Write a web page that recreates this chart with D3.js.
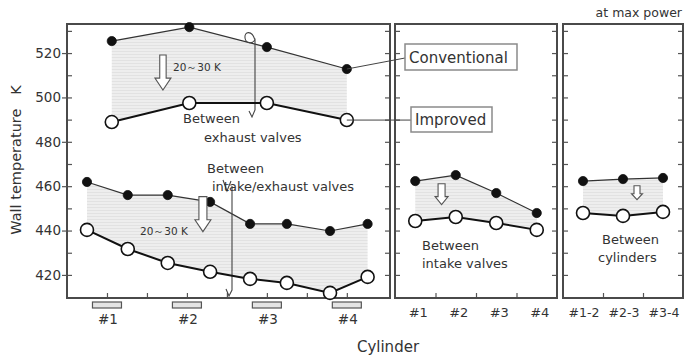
<!DOCTYPE html>
<html>
<head>
<meta charset="utf-8">
<script src="https://cdn.jsdelivr.net/npm/d3@7"></script>
<style>
  html, body { margin: 0; padding: 0; background: #fff; }
  svg { display: block; font-family: "DejaVu Sans", sans-serif; }
  text { fill: #333; }
</style>
</head>
<body>
<svg id="chart" width="691" height="359"></svg>
<script>
// Wall temperatures (K): conventional vs improved head, at max power
const exhaustPos  = [1.06, 2.03, 3.0, 4.0];
const exhaustConv = [525.4, 531.7, 522.7, 512.8];
const exhaustImp  = [488.9, 497.5, 497.5, 489.8];

const ieValvePos = [0.75, 1.26, 1.76, 2.29, 2.79, 3.25, 3.79, 4.26];
const ieConv     = [461.9, 456.0, 456.0, 452.9, 443.0, 443.0, 439.8, 443.0];
const ieImp      = [440.3, 431.7, 425.4, 421.4, 418.2, 416.4, 411.9, 419.1];

const intakeCats = ["#1", "#2", "#3", "#4"];
const intakeConv = [462.3, 465.0, 456.9, 447.9];
const intakeImp  = [444.3, 446.1, 443.4, 440.3];

const betweenCats = ["#1-2", "#2-3", "#3-4"];
const betweenConv = [462.3, 463.2, 463.7];
const betweenImp  = [447.9, 446.6, 448.4];

const cylinders = ["#1", "#2", "#3", "#4"];
const yTicks = [420, 440, 460, 480, 500, 520];
const yMinor = d3.range(420, 531, 10);

const svg = d3.select("#chart");
const plotTop = 24, plotBottom = 298;

const y = d3.scaleLinear().domain([409.6, 533.1]).range([plotBottom, plotTop]);
const xMain = d3.scaleLinear().domain([0.5, 4.54]).range([67, 390]);
const xIntake = d3.scaleLinear().domain([0.5, 4.5]).range([395, 557]);
const xBetween = d3.scaleLinear().domain([0.5, 3.5]).range([563, 683]);

// hatched grey fill for the reduction bands
const defs = svg.append("defs");
const pat = defs.append("pattern").attr("id", "hatch")
  .attr("patternUnits", "userSpaceOnUse").attr("width", 6).attr("height", 3);
pat.append("rect").attr("width", 6).attr("height", 3).attr("fill", "#eeeeee");
pat.append("rect").attr("y", 0).attr("width", 6).attr("height", 1).attr("fill", "#e2e2e2");

function band(xs, hi, lo, xScale) {
  const pts = xs.map((p, i) => ({ x: p, hi: hi[i], lo: lo[i] }));
  svg.append("path")
    .attr("d", d3.area().x(d => xScale(d.x)).y0(d => y(d.lo)).y1(d => y(d.hi))(pts))
    .attr("fill", "url(#hatch)");
}

function series(xs, vals, xScale, filled) {
  const pts = xs.map((p, i) => [xScale(p), y(vals[i])]);
  svg.append("path").attr("d", d3.line()(pts))
    .attr("fill", "none")
    .attr("stroke", filled ? "#333" : "#111")
    .attr("stroke-width", filled ? 1.2 : 2);
  svg.append("g").selectAll("circle").data(pts).join("circle")
    .attr("cx", d => d[0]).attr("cy", d => d[1])
    .attr("r", filled ? 4.6 : 6.5)
    .attr("fill", filled ? "#111" : "#fff")
    .attr("stroke", "#111")
    .attr("stroke-width", filled ? 0.8 : 1.6);
}

function hollowArrow(cx, y0, headY, tipY, shaftHalf, headHalf) {
  const p = [[cx - shaftHalf, y0], [cx + shaftHalf, y0], [cx + shaftHalf, headY],
             [cx + headHalf, headY], [cx, tipY], [cx - headHalf, headY],
             [cx - shaftHalf, headY]];
  svg.append("path").attr("d", "M" + p.join("L") + "Z")
    .attr("fill", "#fff").attr("stroke", "#555").attr("stroke-width", 1.1);
}

// ---- bands ----
band(exhaustPos, exhaustConv, exhaustImp, xMain);
band(ieValvePos, ieConv, ieImp, xMain);
const iPos = intakeCats.map((d, i) => i + 1);
const bPos = betweenCats.map((d, i) => i + 1);
band(iPos, intakeConv, intakeImp, xIntake);
band(bPos, betweenConv, betweenImp, xBetween);

// ---- axes / frames ----
function frame(xScale, xTickVals) {
  const [x0, x1] = xScale.range();
  const g = svg.append("g");
  g.append("g").attr("transform", `translate(${x0},0)`)
    .call(d3.axisLeft(y).tickValues(yMinor).tickSize(-5).tickFormat(""));
  g.append("g").attr("transform", `translate(${x1},0)`)
    .call(d3.axisRight(y).tickValues(yMinor).tickSize(-5).tickFormat(""));
  g.append("g").attr("transform", `translate(0,${plotBottom})`)
    .call(d3.axisBottom(xScale).tickValues(xTickVals).tickSize(-5).tickFormat(""));
  g.selectAll(".domain").remove();
  g.selectAll(".tick line").attr("stroke", "#555").attr("stroke-width", 1.2);
  svg.append("rect").attr("x", x0).attr("y", plotTop)
    .attr("width", x1 - x0).attr("height", plotBottom - plotTop)
    .attr("fill", "none").attr("stroke", "#4a4a4a").attr("stroke-width", 2);
}
frame(xMain, d3.range(1, 4.01, 0.5));
frame(xIntake, [1.5, 2.5, 3.5]);
frame(xBetween, [1.5, 2.5]);

// y tick labels on the main panel
const yl = svg.append("g").attr("transform", `translate(${xMain.range()[0]},0)`)
  .call(d3.axisLeft(y).tickValues(yTicks).tickSize(5).tickPadding(1).tickFormat(d3.format("d")));
yl.select(".domain").remove();
yl.selectAll(".tick line").attr("stroke", "#555").attr("stroke-width", 1.2);
yl.selectAll("text").attr("font-family", "DejaVu Sans").attr("font-size", 13.5).attr("fill", "#333");

// cylinder labels and bore markers
const cylG = svg.append("g");
cylinders.forEach((c, i) => {
  const cx = xMain(i + 1);
  cylG.append("rect").attr("x", cx - 14.5).attr("y", plotBottom + 4)
    .attr("width", 29).attr("height", 6)
    .attr("fill", "#e4e4e4").attr("stroke", "#555").attr("stroke-width", 1.2);
  cylG.append("text").attr("x", cx + 1).attr("y", 324)
    .attr("text-anchor", "middle").attr("font-size", 13.5).text(c);
});
intakeCats.forEach((c, i) => {
  svg.append("text").attr("x", xIntake(i + 1) + 3).attr("y", 317)
    .attr("text-anchor", "middle").attr("font-size", 13).text(c);
});
betweenCats.forEach((c, i) => {
  svg.append("text").attr("x", xBetween(i + 1) + 1).attr("y", 317)
    .attr("text-anchor", "middle").attr("font-size", 12.5).text(c);
});

// ---- series ----
series(exhaustPos, exhaustConv, xMain, true);
series(ieValvePos, ieConv, xMain, true);
series(iPos, intakeConv, xIntake, true);
series(bPos, betweenConv, xBetween, true);

// section marks between exhaust valves and between intake/exhaust valves
svg.append("path")
  .attr("d", "M255,40 C252,30 244,31 245,38 C246,44 252,44 255,40 L255,110 L252,117 L249,111")
  .attr("fill", "none").attr("stroke", "#444").attr("stroke-width", 1.1);
svg.append("path")
  .attr("d", "M223,180 L227,191 L231,181 M232,186 L232,290 L229,296 L226,289")
  .attr("fill", "none").attr("stroke", "#444").attr("stroke-width", 1.1);

series(exhaustPos, exhaustImp, xMain, false);
series(ieValvePos, ieImp, xMain, false);
series(iPos, intakeImp, xIntake, false);
series(bPos, betweenImp, xBetween, false);

// ---- reduction arrows ----
hollowArrow(xMain(1.7), y(519.1), y(508.7), y(503.3), 3.2, 8);
svg.append("text").attr("x", 173).attr("y", 71).attr("font-size", 10.5).text("20～30 K");
hollowArrow(xMain(2.2), y(455.3), y(444.9), y(439.5), 4, 8);
svg.append("text").attr("x", 140).attr("y", 235).attr("font-size", 10.5).text("20～30 K");
hollowArrow(xIntake(1.65), y(461.1), y(455.3), y(451.7), 3.5, 6.5);
hollowArrow(xBetween(2.35), y(460.2), y(456.6), y(453.9), 3, 5.5);

// ---- legend ----
function legendBox(x, yTop, w, h, label) {
  svg.append("rect").attr("x", x).attr("y", yTop).attr("width", w).attr("height", h)
    .attr("fill", "#fff").attr("stroke", "#8a8a8a").attr("stroke-width", 1.5);
  svg.append("text").attr("x", x + 4).attr("y", yTop + h / 2 + 5.5)
    .attr("font-size", 15).attr("fill", "#222").text(label);
}
svg.append("line")
  .attr("x1", xMain(exhaustPos[3])).attr("y1", y(exhaustConv[3]))
  .attr("x2", 405).attr("y2", 58).attr("stroke", "#444").attr("stroke-width", 1);
svg.append("line")
  .attr("x1", xMain(exhaustPos[3])).attr("y1", y(exhaustImp[3]))
  .attr("x2", 411).attr("y2", y(exhaustImp[3])).attr("stroke", "#444").attr("stroke-width", 1);
legendBox(405, 44, 112, 26, "Conventional");
legendBox(411, 107, 81, 25, "Improved");

// ---- annotations ----
function note(x, yb, txt, size) {
  svg.append("text").attr("x", x).attr("y", yb).attr("font-size", size || 13)
    .attr("fill", "#3a3a3a").text(txt);
}
note(183, 123, "Between");
note(204, 142, "exhaust valves");
note(207, 173, "Between");
note(212, 191, "intake/exhaust valves");
note(422, 250, "Between");
note(422, 268, "intake valves");
note(602, 244, "Between");
note(598, 262, "cylinders");

svg.append("text").attr("x", 682).attr("y", 17).attr("text-anchor", "end")
  .attr("font-size", 12.5).text("at max power");

// axis titles
svg.append("text").attr("x", 388).attr("y", 352).attr("text-anchor", "middle")
  .attr("font-size", 15).text("Cylinder");
svg.append("text").attr("transform", "translate(21,160) rotate(-90)")
  .attr("text-anchor", "middle").attr("font-size", 14.5)
  .style("white-space", "pre").text("Wall temperature   K");
</script>
</body>
</html>
